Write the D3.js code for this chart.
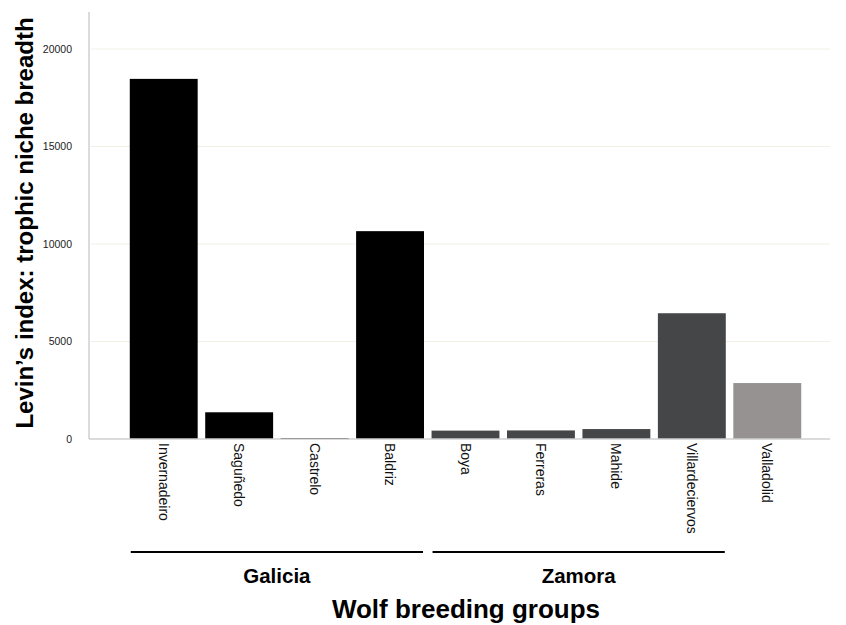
<!DOCTYPE html>
<meta charset="utf-8">
<style>
body { margin: 0; background: #fff; }
text { font-family: "Liberation Sans", Arial, Helvetica, sans-serif; }
</style>
<body>
<script src="https://d3js.org/d3.v7.min.js"></script>
<script>

// data
var breedingGroups = ["Invernadeiro", "Saguñedo", "Castrelo", "Baldriz",
  "Boya", "Ferreras", "Mahide", "Villardeciervos", "Valladolid"];
var nicheBreadth = [18470, 1370, 50, 10660, 430, 440, 510, 6450, 2870];
var regionOf = ["Galicia", "Galicia", "Galicia", "Galicia",
  "Zamora", "Zamora", "Zamora", "Zamora", "Valladolid"];
var regionLabels = ["Galicia", "Zamora"];
var yTicks = [0, 5000, 10000, 15000, 20000];

var width = 846, height = 625;
var plotLeft = 89, plotRight = 830, plotTop = 12, plotBase = 439;

var svg = d3.select("body").append("svg")
    .attr("width", width)
    .attr("height", height);

var x = d3.scaleBand()
    .domain(breedingGroups)
    .range([126, 805])
    .paddingInner(0.1)
    .paddingOuter(0.05);

var y = d3.scaleLinear()
    .domain([0, 21900])
    .range([plotBase, plotTop]);

var colour = d3.scaleOrdinal()
    .domain(["Galicia", "Zamora", "Valladolid"])
    .range(["#000000", "#454648", "#969291"]);

// faint grid lines
svg.append("g")
  .selectAll("line")
  .data(yTicks.slice(1))
  .enter().append("line")
    .attr("x1", plotLeft + 2).attr("x2", plotRight)
    .attr("y1", function(d) { return y(d); })
    .attr("y2", function(d) { return y(d); })
    .style("stroke", "#f2f0e4")
    .style("stroke-width", 1);

// bars
svg.append("g")
  .selectAll("rect")
  .data(breedingGroups)
  .enter().append("rect")
    .attr("x", function(d) { return x(d); })
    .attr("width", x.bandwidth())
    .attr("y", function(d, i) { return y(nicheBreadth[i]); })
    .attr("height", function(d, i) { return plotBase - y(nicheBreadth[i]); })
    .style("fill", function(d, i) { return colour(regionOf[i]); });

// y axis
var yAxis = svg.append("g")
    .attr("transform", "translate(" + plotLeft + ",0)")
    .call(d3.axisLeft(y).tickValues(yTicks).tickSize(0).tickPadding(17)
      .tickFormat(d3.format("d")));
yAxis.select(".domain").remove();
yAxis.selectAll("text")
    .style("font-size", "10.5px")
    .style("fill", "#222");
svg.append("line")
    .attr("x1", plotLeft).attr("x2", plotLeft)
    .attr("y1", plotTop).attr("y2", plotBase)
    .style("stroke", "#cfcfcf").style("stroke-width", 1.5);

// x axis
var xAxis = svg.append("g")
    .attr("transform", "translate(0," + plotBase + ")")
    .call(d3.axisBottom(x).tickSize(0));
xAxis.select(".domain").remove();
xAxis.selectAll("text")
    .attr("transform", "rotate(90)")
    .attr("x", 4)
    .attr("y", 0)
    .attr("dy", "0.35em")
    .style("text-anchor", "start")
    .style("font-size", "14px")
    .style("fill", "#111");
svg.append("line")
    .attr("x1", plotLeft).attr("x2", plotRight)
    .attr("y1", plotBase).attr("y2", plotBase)
    .style("stroke", "#cfcfcf").style("stroke-width", 1.5);

// region brackets
regionLabels.forEach(function(r) {
  var members = breedingGroups.filter(function(d, i) { return regionOf[i] === r; });
  var x0 = x(members[0]) + 1,
      x1 = x(members[members.length - 1]) + x.bandwidth() - 1;
  svg.append("line")
      .attr("x1", x0).attr("x2", x1)
      .attr("y1", 552).attr("y2", 552)
      .style("stroke", "#000").style("stroke-width", 2);
  svg.append("text")
      .attr("x", (x0 + x1) / 2)
      .attr("y", 583)
      .style("text-anchor", "middle")
      .style("font-size", "20.5px")
      .style("font-weight", "bold")
      .text(r);
});

// axis titles
svg.append("text")
    .attr("transform", "translate(33,223) rotate(-90)")
    .style("text-anchor", "middle")
    .style("font-size", "24px")
    .style("font-weight", "bold")
    .text("Levin’s index: trophic niche breadth");

svg.append("text")
    .attr("x", 466)
    .attr("y", 618)
    .style("text-anchor", "middle")
    .style("font-size", "26px")
    .style("font-weight", "bold")
    .text("Wolf breeding groups");

</script>
</body>
